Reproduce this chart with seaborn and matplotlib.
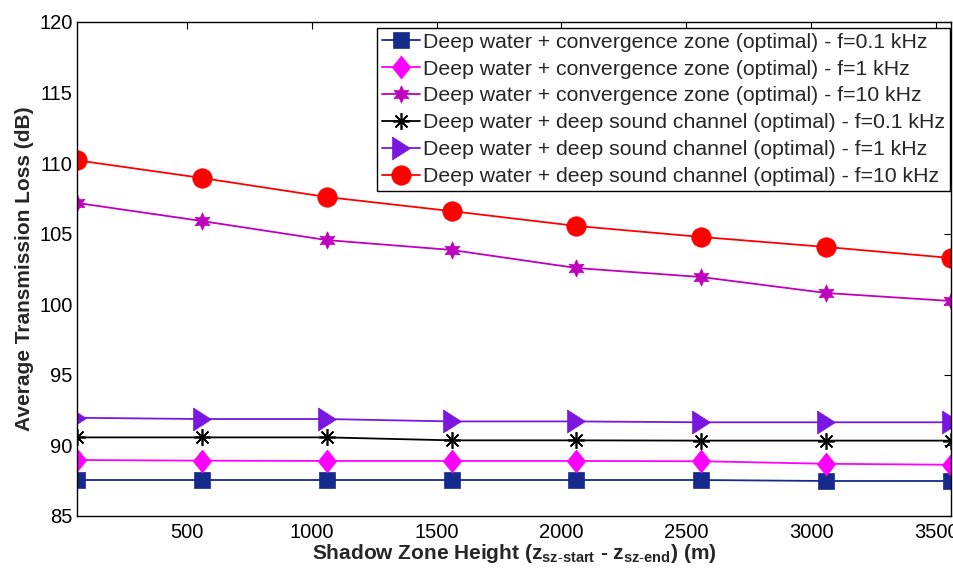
import numpy as np
import pandas as pd
import matplotlib
matplotlib.use("Agg")
import matplotlib.pyplot as plt
import seaborn as sns

x_vals = [60, 560, 1060, 1560, 2060, 2560, 3060, 3560]
cz_01 = [87.55, 87.55, 87.55, 87.55, 87.55, 87.55, 87.48, 87.48]
cz_1 = [88.97, 88.92, 88.90, 88.90, 88.90, 88.88, 88.70, 88.63]
cz_10 = [107.18, 105.90, 104.55, 103.85, 102.57, 101.93, 100.80, 100.23]
dsc_01 = [90.57, 90.57, 90.57, 90.36, 90.36, 90.34, 90.34, 90.34]
dsc_1 = [91.96, 91.87, 91.87, 91.70, 91.70, 91.64, 91.64, 91.64]
dsc_10 = [110.20, 108.95, 107.60, 106.60, 105.55, 104.77, 104.06, 103.28]

labels = [
    "Deep water + convergence zone (optimal) - f=0.1 kHz",
    "Deep water + convergence zone (optimal) - f=1 kHz",
    "Deep water + convergence zone (optimal) - f=10 kHz",
    "Deep water + deep sound channel (optimal) - f=0.1 kHz",
    "Deep water + deep sound channel (optimal) - f=1 kHz",
    "Deep water + deep sound channel (optimal) - f=10 kHz",
]
series = [cz_01, cz_1, cz_10, dsc_01, dsc_1, dsc_10]
colors = ["#152a8c", "#ff00ff", "#bf00bf", "#000000", "#7a16e0", "#ff0000"]

tall_diamond = [(0, 1), (0.8, 0), (0, -1), (-0.8, 0), (0, 1)]
tall_right_tri = [(-0.78, 1), (0.78, 0), (-0.78, -1), (-0.78, 1)]
markers = ["s", tall_diamond, (6, 1, 0), (8, 2, 0), tall_right_tri, "o"]
msizes = [11, 16.5, 12.5, 12, 16.5, 14]

sns.set_theme(style="white")
plt.rcParams["font.family"] = ["Liberation Sans", "DejaVu Sans"]
plt.rcParams["mathtext.fontset"] = "custom"
plt.rcParams["mathtext.rm"] = "Liberation Sans"
plt.rcParams["mathtext.bf"] = "Liberation Sans:bold"
plt.rcParams["mathtext.it"] = "Liberation Sans:italic"

W, H = 954, 570
fig = plt.figure(figsize=(W / 100, H / 100), dpi=100)
ax = fig.add_axes([77 / W, 1 - 516 / H, (951 - 77) / W, (516 - 22) / H])

for lab, ys, c, m, ms in zip(labels, series, colors, markers, msizes):
    df = pd.DataFrame({"x": x_vals, "y": ys})
    sns.lineplot(data=df, x="x", y="y", ax=ax, color=c, marker=m, markersize=ms,
                 markeredgecolor=c, markerfacecolor=c,
                 markeredgewidth=1.2 if m == (8, 2, 0) else 0.5,
                 linewidth=1.3, label=lab)

ax.set_xlim(60, 3560)
ax.set_ylim(85, 120)
ax.set_xticks([500, 1000, 1500, 2000, 2500, 3000, 3500])
ax.set_yticks([85, 90, 95, 100, 105, 110, 115, 120])
ax.tick_params(direction="in", top=True, right=True, length=5, width=0.8,
               labelsize=14.5, colors="black")
ax.tick_params(axis="x", pad=5)
ax.tick_params(axis="y", pad=3)
for s in ax.spines.values():
    s.set_color("black")
    s.set_linewidth(1.0)

ax.set_xlabel(r"Shadow Zone Height (z$_{\mathbf{sz\text{-}start}}$ - z$_{\mathbf{sz\text{-}end}}$) (m)",
              fontsize=15, fontweight="bold", labelpad=0)
ax.set_ylabel("Average Transmission Loss (dB)", fontsize=15, fontweight="bold", labelpad=4)

leg = ax.legend(loc="upper right", bbox_to_anchor=(950 / W, 1 - 28 / H),
                bbox_transform=fig.transFigure, fontsize=15.3, frameon=True, fancybox=False,
                edgecolor="black", framealpha=1, borderpad=0.22, labelspacing=0.37,
                handlelength=1.8, handletextpad=0.15, borderaxespad=0)
leg.get_frame().set_linewidth(1.0)

fig.savefig("out.png", dpi=100)
